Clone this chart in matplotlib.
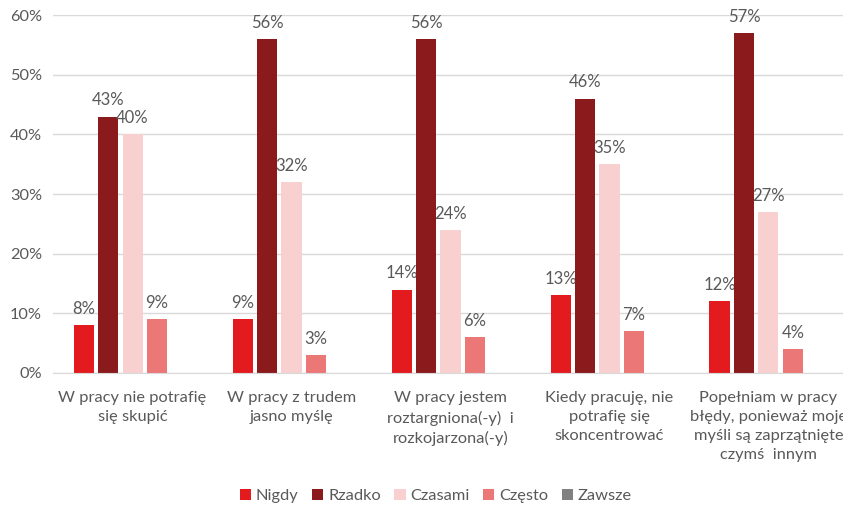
import numpy as np
import matplotlib.pyplot as plt
from matplotlib.ticker import PercentFormatter

categories = [
    "W pracy nie potrafię\nsię skupić",
    "W pracy z trudem\njasno myślę",
    "W pracy jestem\nroztargniona(-y)  i\nrozkojarzona(-y)",
    "Kiedy pracuję, nie\npotrafię się\nskoncentrować",
    "Popełniam w pracy\nbłędy, ponieważ moje\nmyśli są zaprzątnięte\nczymś  innym",
]
series_names = ["Nigdy", "Rzadko", "Czasami", "Często", "Zawsze"]
nigdy = [8, 9, 14, 13, 12]
rzadko = [43, 56, 56, 46, 57]
czasami = [40, 32, 24, 35, 27]
czesto = [9, 3, 6, 7, 4]
zawsze = [0, 0, 0, 0, 0]
values = [nigdy, rzadko, czasami, czesto, zawsze]
colors = ["#E31B1F", "#8A1A1C", "#F8D0D0", "#EC7777", "#808080"]

plt.rcParams["font.family"] = ["Lato", "DejaVu Sans"]
text_color = "#595959"

fig = plt.figure(figsize=(8.43, 5.07), dpi=100)
ax = fig.add_axes([0.0629, 0.2643, 0.943, 0.7057])

x = np.arange(len(categories))
step = 0.154
width = 0.126
for i, (name, vals, col) in enumerate(zip(series_names, values, colors)):
    pos = x + (i - 2) * step
    ax.bar(pos, vals, width=width, color=col, label=name, zorder=3)
    for px, v in zip(pos, vals):
        if v > 0:
            ax.annotate(f"{v}%", (px, v), xytext=(0, 6), textcoords="offset points",
                        ha="center", va="bottom", fontsize=12, color=text_color)

ax.set_xlim(-0.5, len(categories) - 0.5)
ax.set_ylim(0, 60)
ax.set_yticks(range(0, 61, 10))
ax.yaxis.set_major_formatter(PercentFormatter(decimals=0))
ax.set_xticks(x)
ax.set_xticklabels(categories, fontsize=11.8, color=text_color, linespacing=1.45)
ax.tick_params(axis="y", length=0, labelsize=11.8, labelcolor=text_color, pad=8)
ax.tick_params(axis="x", length=0, pad=13)
ax.grid(axis="y", color="#D9D9D9", linewidth=1, zorder=0)
for side in ["top", "right", "left"]:
    ax.spines[side].set_visible(False)
ax.spines["bottom"].set_color("#D9D9D9")
ax.spines["bottom"].set_zorder(4)

fig.legend(loc="center", bbox_to_anchor=(0.517, 0.022), ncol=5, frameon=False,
           fontsize=11.8, labelcolor=text_color, handlelength=0.7, handleheight=0.7,
           handletextpad=0.3, columnspacing=0.8)

fig.savefig("out.png", dpi=100)
